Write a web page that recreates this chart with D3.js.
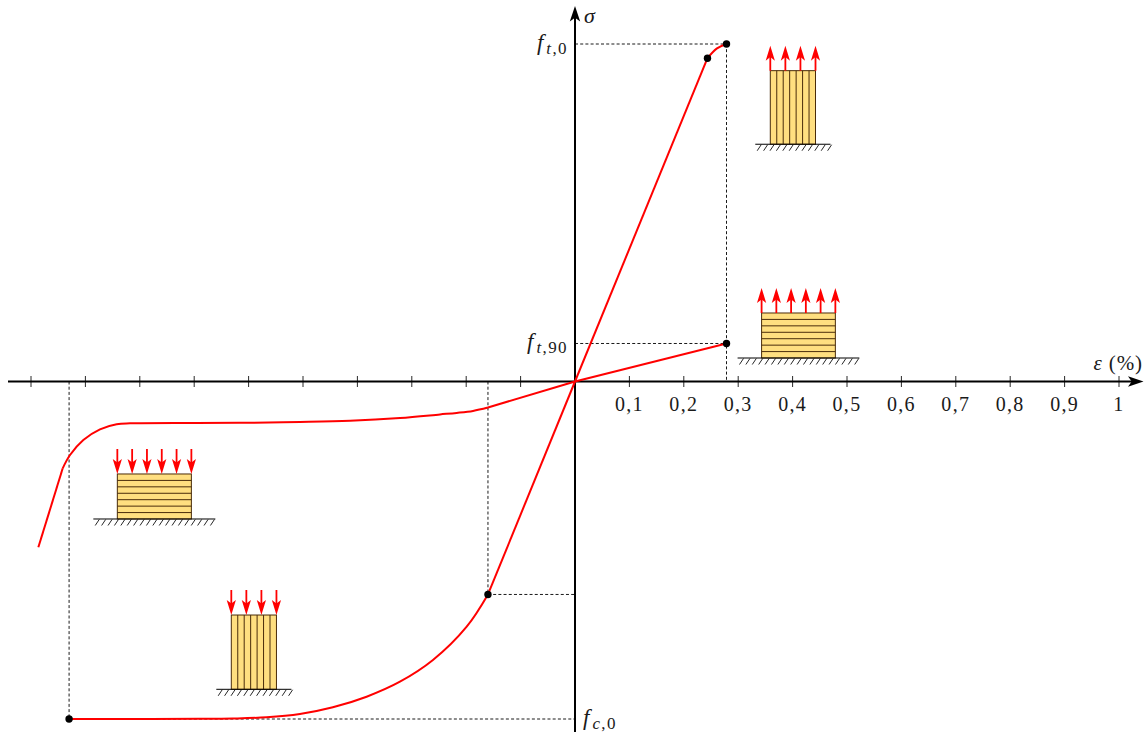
<!DOCTYPE html>
<html><head><meta charset="utf-8">
<script src="https://cdn.jsdelivr.net/npm/d3@7"></script>
<style>html,body{margin:0;padding:0;background:#fff}svg{display:block}
text{font-family:"Liberation Serif",serif;fill:#1a1a1a}</style></head>
<body><svg id="c" width="1148" height="733"></svg>
<script>
// Strain (%) ticks
const posTicks = [0.1,0.2,0.3,0.4,0.5,0.6,0.7,0.8,0.9,1];
const negTicks = [-0.1,-0.2,-0.3,-0.4,-0.5,-0.6,-0.7,-0.8,-0.9,-1];
const tickLabels = ["0,1","0,2","0,3","0,4","0,5","0,6","0,7","0,8","0,9","1"];
// Curves: [strain %, sigma / f]
const tensionGrainLine = [[0,0],[0.2435,0.958]];
const tensionGrainCurve = [[0.2435,0.958],[0.261,0.987],[0.2785,1]];
const tensionPerpLine = [[0,0],[0.2785,0.1126]];
const compGrainLine = [[0,0],[-0.16,-0.631]];
const compGrainCurve = [[-0.16,-0.631],[-0.1991,-0.7265],[-0.2611,-0.8252],[-0.3218,-0.8895],[-0.3831,-0.9339],[-0.4451,-0.9653],[-0.5057,-0.9852],[-0.567,-0.995],[-0.629,-0.9985],[-0.6897,-0.9996],[-0.78,-1],[-0.93,-1]];
const compPerpLine = [[0,0],[-0.16,-0.077]];
const compPerpCurve = [[-0.16,-0.077],[-0.1875,-0.0871],[-0.2174,-0.0930],[-0.2482,-0.0975],[-0.3217,-0.1081],[-0.4135,-0.1164],[-0.5055,-0.12],[-0.5974,-0.1221],[-0.6953,-0.1227],[-0.818,-0.1239],[-0.8425,-0.1268],[-0.8732,-0.1416],[-0.9038,-0.1733],[-0.9283,-0.2178],[-0.9417,-0.2572]];
const compPerpTail = [[-0.9417,-0.2572],[-0.9865,-0.4913]];
const points = [[0.2785,1],[0.2435,0.958],[0.2785,0.1126],[-0.16,-0.631],[-0.93,-1]];
// Guide lines: pairs of end points
const guides = [
 [[0,1],[0.2785,1]],[[0.2785,1],[0.2785,0]],[[0,0.1126],[0.2785,0.1126]],
 [[-0.16,0],[-0.16,-0.631]],[[-0.16,-0.631],[0,-0.631]],
 [[-0.93,0],[-0.93,-1]],[[-0.93,-1],[0,-1]]];
// Specimens: strain range, sigma range, grain direction, load direction, arrow count
const specimens = [
 {x0:0.359,x1:0.4421,top:0.921,bot:0.703,grain:"v",load:"up",n:4},
 {x0:0.343,x1:0.4786,top:0.203,bot:0.0696,grain:"h",load:"up",n:6},
 {x0:-0.8413,x1:-0.7052,top:-0.274,bot:-0.4074,grain:"h",load:"down",n:6},
 {x0:-0.6318,x1:-0.5488,top:-0.6919,bot:-0.912,grain:"v",load:"down",n:4}];

const x = d3.scaleLinear().domain([0,1]).range([575,1119]);
const y = d3.scaleLinear().domain([-1,1]).range([719,44]);
const y0 = y(0), x0 = x(0);
const svg = d3.select("#c");
const line = d3.line().x(d=>x(d[0])).y(d=>y(d[1]));
const smooth = d3.line().x(d=>x(d[0])).y(d=>y(d[1])).curve(d3.curveCatmullRom.alpha(0.5));

// guides
svg.append("g").selectAll("path").data(guides).join("path").attr("d",line)
  .attr("fill","none").attr("stroke","#000").attr("stroke-width",0.9).attr("stroke-dasharray","3 2.2");

// stealth arrow head, tip at origin and pointing up
const head=(l,w)=>`M0,0L${w},${l}L0,${l*0.76}L${-w},${l}Z`;

// specimens
const sg = svg.append("g");
specimens.forEach(s=>{
  const L=x(s.x0),R=x(s.x1),T=y(s.top),B=y(s.bot),g=sg.append("g");
  g.append("rect").attr("x",L).attr("y",T).attr("width",R-L).attr("height",B-T)
    .attr("fill","#ffdf80").attr("stroke","#4a2c0a").attr("stroke-width",1);
  d3.range(1,7).forEach(i=>{
    const f=i/7;
    if(s.grain==="v") g.append("line").attr("x1",L+f*(R-L)).attr("x2",L+f*(R-L)).attr("y1",T).attr("y2",B)
      .attr("stroke","#4a2c0a").attr("stroke-width",1);
    else g.append("line").attr("y1",T+f*(B-T)).attr("y2",T+f*(B-T)).attr("x1",L).attr("x2",R)
      .attr("stroke","#4a2c0a").attr("stroke-width",1);
  });
  const over = (R-L)<60?15:24, GL=L-over, GR=R+over;
  g.append("line").attr("x1",GL).attr("x2",GR).attr("y1",B).attr("y2",B).attr("stroke","#000").attr("stroke-width",1);
  d3.range(GL+3.5,GR-1,6.4).forEach(h=>{
    g.append("line").attr("x1",h+2.4).attr("x2",h-1.6).attr("y1",B+0.5).attr("y2",B+6.5).attr("stroke","#000").attr("stroke-width",0.85);
  });
  d3.range(s.n).forEach(i=>{
    const ax=L+i*(R-L)/(s.n-1), ln=25;
    if(s.load==="up"){
      g.append("line").attr("x1",ax).attr("x2",ax).attr("y1",T).attr("y2",T-ln+8).attr("stroke","#f00").attr("stroke-width",1.8);
      g.append("path").attr("d",head(15,4.6)).attr("transform",`translate(${ax},${T-ln})`).attr("fill","#f00");
    } else {
      g.append("line").attr("x1",ax).attr("x2",ax).attr("y1",T-ln).attr("y2",T-8).attr("stroke","#f00").attr("stroke-width",1.8);
      g.append("path").attr("d",head(15,4.6)).attr("transform",`translate(${ax},${T}) rotate(180)`).attr("fill","#f00");
    }
  });
});

// axes
const ticks = d3.axisBottom(x).offset(0).tickValues(posTicks.concat(negTicks)).tickSize(5)
  .tickFormat(d=>{const i=posTicks.indexOf(d);return i<0?"":tickLabels[i];});
const ag = svg.append("g").attr("transform",`translate(0,${y0})`).call(ticks);
ag.select(".domain").remove();
ag.selectAll(".tick line").attr("y1",-5.5).attr("y2",5.5).attr("stroke","#111").attr("stroke-width",0.9);
ag.selectAll(".tick text").attr("y",15).attr("dy","0.71em").style("font-size","20px")
  .style("font-family",'"Liberation Serif",serif').style("letter-spacing","1.3px").attr("fill","#1a1a1a");
svg.append("line").attr("x1",8).attr("x2",1134).attr("y1",y0).attr("y2",y0).attr("stroke","#000").attr("stroke-width",2);
svg.append("path").attr("d",head(15.5,5.2)).attr("transform",`translate(1143.5,${y0}) rotate(90)`).attr("fill","#000");
svg.append("line").attr("x1",x0).attr("x2",x0).attr("y1",732).attr("y2",16).attr("stroke","#000").attr("stroke-width",2);
svg.append("path").attr("d",head(15.5,5.2)).attr("transform",`translate(${x0},6)`).attr("fill","#000");

// curves
const cg = svg.append("g").attr("fill","none").attr("stroke","#f00").attr("stroke-width",2).attr("stroke-linejoin","round");
[tensionGrainLine,tensionPerpLine,compGrainLine,compPerpLine,compPerpTail].forEach(d=>cg.append("path").attr("d",line(d)));
[tensionGrainCurve,compGrainCurve,compPerpCurve].forEach(d=>cg.append("path").attr("d",smooth(d)));

// points
svg.append("g").selectAll("circle").data(points).join("circle")
  .attr("cx",d=>x(d[0])).attr("cy",d=>y(d[1])).attr("r",3.7).attr("fill","#000");

// labels
function sublabel(px,py,anchor,main,subIt,subRm){
  const t=svg.append("text").attr("x",px).attr("y",py).attr("text-anchor",anchor).style("font-size","23px");
  t.append("tspan").attr("font-style","italic").text(main);
  t.append("tspan").attr("dy",4).attr("dx",3).attr("font-style","italic").style("font-size","17px").style("letter-spacing","1.4px").text(subIt);
  t.append("tspan").style("font-size","17px").style("letter-spacing","1.4px").text(subRm);
}
sublabel(568,50,"end","f","t",",0");
sublabel(568,349,"end","f","t",",90");
sublabel(583,725,"start","f","c",",0");
svg.append("text").attr("x",584).attr("y",23).attr("font-style","italic").style("font-size","22px").text("σ");
const eps=svg.append("text").attr("x",1143).attr("y",370).attr("text-anchor","end").style("font-size","21px").style("letter-spacing","0.9px");
eps.append("tspan").attr("font-style","italic").text("ε");
eps.append("tspan").text("  (%)");
</script></body></html>
